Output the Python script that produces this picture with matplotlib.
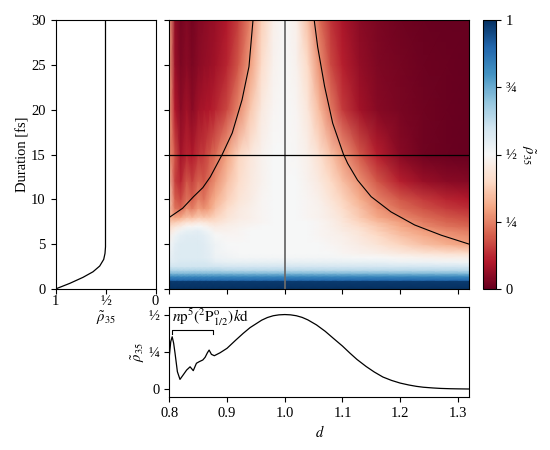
import matplotlib
matplotlib.use("Agg")
import matplotlib.pyplot as plt
import numpy as np

plt.rcParams.update({
    "font.family": "serif",
    "font.serif": ["Liberation Serif", "DejaVu Serif"],
    "mathtext.fontset": "stix",
    "font.size": 10.5,
})

# ---- data -----------------------------------------------------------------
# heat map grid: duration rows (fs) x photon-energy ratio columns
D_COLS = [0.80, 0.81, 0.82, 0.83, 0.84, 0.85, 0.86, 0.87, 0.88, 0.90, 0.92, 0.94, 0.96,
          0.98, 1.00, 1.02, 1.04, 1.06, 1.08, 1.10, 1.13, 1.16, 1.20, 1.24, 1.28, 1.32]
T_ROWS = [0.0, 0.9, 1.0, 1.4, 1.75, 2.1, 2.5, 3.0, 3.5, 4.0, 5.0, 6.0, 6.5, 7.0, 7.5,
          8.0, 9.0, 10.0, 12.0, 15.0, 20.0, 25.0, 30.0]
RHO_GRID = [
    [1.00] * 26,
    [0.98] * 26,
    [0.89] * 26,
    [0.82] * 26,
    [0.72] * 26,
    [0.65] * 9 + [0.64] * 17,
    [0.60] * 9 + [0.59] * 17,
    [0.56, 0.57, 0.58, 0.58, 0.58, 0.58, 0.58, 0.57, 0.55, 0.54, 0.54, 0.54, 0.54, 0.54,
     0.54, 0.54, 0.54, 0.54, 0.54, 0.54, 0.54, 0.54, 0.53, 0.53, 0.52, 0.52],
    [0.54, 0.56, 0.57, 0.57, 0.57, 0.57, 0.56, 0.55, 0.53, 0.52, 0.51, 0.51, 0.51, 0.51,
     0.51, 0.51, 0.51, 0.51, 0.51, 0.51, 0.50, 0.50, 0.49, 0.48, 0.47, 0.47],
    [0.53, 0.56, 0.57, 0.57, 0.57, 0.57, 0.56, 0.55, 0.52, 0.51, 0.50, 0.50, 0.50, 0.50,
     0.50, 0.50, 0.50, 0.50, 0.50, 0.49, 0.48, 0.47, 0.45, 0.43, 0.42, 0.41],
    [0.51, 0.55, 0.57, 0.57, 0.57, 0.57, 0.56, 0.54, 0.52, 0.50, 0.50, 0.50, 0.50, 0.50,
     0.50, 0.50, 0.50, 0.50, 0.49, 0.48, 0.46, 0.43, 0.39, 0.35, 0.32, 0.29],
    [0.47, 0.52, 0.55, 0.56, 0.56, 0.56, 0.55, 0.53, 0.50, 0.49, 0.49, 0.50, 0.50, 0.50,
     0.50, 0.50, 0.50, 0.49, 0.48, 0.47, 0.44, 0.40, 0.35, 0.31, 0.28, 0.26],
    [0.44, 0.48, 0.52, 0.54, 0.54, 0.55, 0.53, 0.51, 0.48, 0.48, 0.49, 0.50, 0.50, 0.50,
     0.50, 0.50, 0.50, 0.49, 0.48, 0.46, 0.43, 0.38, 0.33, 0.29, 0.26, 0.24],
    [0.40, 0.43, 0.46, 0.49, 0.49, 0.50, 0.49, 0.47, 0.46, 0.47, 0.48, 0.49, 0.50, 0.50,
     0.50, 0.50, 0.50, 0.49, 0.47, 0.45, 0.41, 0.37, 0.31, 0.26, 0.23, 0.21],
    [0.36, 0.37, 0.39, 0.42, 0.42, 0.44, 0.43, 0.42, 0.42, 0.45, 0.47, 0.48, 0.49, 0.50,
     0.50, 0.50, 0.50, 0.49, 0.47, 0.44, 0.39, 0.34, 0.29, 0.24, 0.21, 0.19],
    [0.33, 0.30, 0.31, 0.35, 0.34, 0.37, 0.36, 0.37, 0.39, 0.43, 0.46, 0.47, 0.49, 0.50,
     0.50, 0.50, 0.49, 0.48, 0.46, 0.43, 0.37, 0.31, 0.26, 0.22, 0.19, 0.17],
    [0.36, 0.23, 0.21, 0.27, 0.24, 0.29, 0.27, 0.30, 0.35, 0.41, 0.45, 0.47, 0.49, 0.50,
     0.50, 0.50, 0.49, 0.48, 0.45, 0.41, 0.35, 0.28, 0.22, 0.18, 0.15, 0.13],
    [0.38, 0.20, 0.17, 0.23, 0.20, 0.25, 0.23, 0.28, 0.32, 0.38, 0.43, 0.46, 0.49, 0.50,
     0.50, 0.50, 0.49, 0.47, 0.43, 0.39, 0.32, 0.25, 0.19, 0.15, 0.12, 0.10],
    [0.35, 0.16, 0.12, 0.19, 0.16, 0.21, 0.19, 0.23, 0.27, 0.35, 0.41, 0.45, 0.48, 0.50,
     0.50, 0.50, 0.48, 0.45, 0.40, 0.35, 0.27, 0.19, 0.11, 0.07, 0.05, 0.04],
    [0.28, 0.18, 0.08, 0.12, 0.10, 0.14, 0.15, 0.19, 0.22, 0.30, 0.39, 0.44, 0.48, 0.50,
     0.50, 0.495, 0.47, 0.42, 0.355, 0.285, 0.19, 0.11, 0.045, 0.015, 0.004, 0.0],
    [0.30, 0.10, 0.05, 0.08, 0.05, 0.08, 0.09, 0.10, 0.12, 0.17, 0.26, 0.36, 0.45, 0.49,
     0.50, 0.49, 0.44, 0.34, 0.24, 0.15, 0.08, 0.045, 0.025, 0.012, 0.005, 0.0],
    [0.30, 0.07, 0.03, 0.05, 0.03, 0.05, 0.06, 0.07, 0.08, 0.12, 0.19, 0.29, 0.41, 0.48,
     0.50, 0.48, 0.40, 0.27, 0.17, 0.11, 0.06, 0.035, 0.02, 0.01, 0.005, 0.0],
    [0.30, 0.06, 0.02, 0.04, 0.02, 0.04, 0.05, 0.06, 0.07, 0.10, 0.16, 0.25, 0.38, 0.47,
     0.50, 0.47, 0.35, 0.22, 0.14, 0.09, 0.05, 0.03, 0.015, 0.005, 0.0, 0.0],
]

# half-maximum guide curves drawn on the map
LEFT_CURVE_T = [8.06, 9.0, 10.3, 11.3, 12.5, 15.05, 17.4, 21.1, 24.8, 30.0]
LEFT_CURVE_D = [0.8017, 0.823, 0.842, 0.858, 0.871, 0.892, 0.909, 0.926, 0.938, 0.945]
RIGHT_CURVE_T = [4.98, 6.0, 7.14, 8.6, 10.3, 12.15, 14.0, 15.05, 18.5, 22.6, 27.0, 30.0]
RIGHT_CURVE_D = [1.3205, 1.271, 1.225, 1.184, 1.1496, 1.126, 1.109, 1.1015, 1.083,
                 1.069, 1.057, 1.051]

# left panel: rho vs duration at d = 1
SIDE_T = [0.0, 0.63, 1.3, 1.92, 2.56, 3.3, 3.97, 4.7, 30.0]
SIDE_RHO = [1.0, 0.857, 0.725, 0.625, 0.558, 0.518, 0.505, 0.5, 0.5]

# bottom panel: rho vs d at duration 15 fs
CUT_D = [0.800, 0.8025, 0.805, 0.8075, 0.810, 0.814, 0.8185, 0.824, 0.830, 0.836,
         0.8415, 0.847, 0.852, 0.858, 0.862, 0.866, 0.869, 0.873, 0.878, 0.888, 0.900,
         0.915, 0.928, 0.940, 0.950, 0.960, 0.970, 0.980, 0.990, 1.000, 1.010, 1.020,
         1.030, 1.040, 1.055, 1.070, 1.084, 1.100, 1.113, 1.125, 1.141, 1.155, 1.170,
         1.185, 1.200, 1.215, 1.228, 1.240, 1.257, 1.270, 1.286, 1.300, 1.320]
CUT_RHO = [0.22, 0.32, 0.353, 0.31, 0.24, 0.117, 0.065, 0.095, 0.128, 0.15, 0.124,
           0.174, 0.185, 0.196, 0.214, 0.245, 0.263, 0.234, 0.225, 0.245, 0.275,
           0.33, 0.376, 0.415, 0.44, 0.465, 0.483, 0.495, 0.501, 0.503, 0.501, 0.495,
           0.484, 0.467, 0.433, 0.39, 0.343, 0.29, 0.242, 0.20, 0.152, 0.115, 0.081,
           0.058, 0.04, 0.027, 0.018, 0.012, 0.007, 0.004, 0.002, 0.001, 0.0]

FRAC_TICKS = [0, 0.25, 0.5, 0.75, 1]
FRAC_LABELS = ["0", "\u00bc", "\u00bd", "\u00be", "1"]
RHO_LABEL = r"$\tilde{\rho}_{35}$"


def main():
    fig = plt.figure(figsize=(5.5, 4.5), dpi=100)
    W, H = 550.0, 450.0

    def box(x0, y0, x1, y1):
        return [x0 / W, 1 - y1 / H, (x1 - x0) / W, (y1 - y0) / H]

    ax_side = fig.add_axes(box(55.5, 20, 155.5, 289))
    ax_map = fig.add_axes(box(169.3, 20, 469.5, 289))
    ax_cb = fig.add_axes(box(483, 20, 496, 289))
    ax_cut = fig.add_axes(box(169.3, 307.3, 469.5, 397.3))

    # main map
    D, T = np.meshgrid(D_COLS, T_ROWS)
    mesh = ax_map.pcolormesh(D, T, np.array(RHO_GRID), shading="gouraud",
                             cmap="RdBu", vmin=0, vmax=1, rasterized=True)
    ax_map.plot(LEFT_CURVE_D, LEFT_CURVE_T, color="k", lw=0.8)
    ax_map.plot(RIGHT_CURVE_D, RIGHT_CURVE_T, color="k", lw=0.8)
    ax_map.axvline(1.0, color="0.42", lw=1.3)
    ax_map.axhline(15.0, color="k", lw=0.9)
    ax_map.set_xlim(0.8, 1.32)
    ax_map.set_ylim(0, 30)
    ax_map.set_xticks([0.8, 0.9, 1.0, 1.1, 1.2, 1.3])
    ax_map.set_yticks(range(0, 31, 5))
    ax_map.tick_params(labelleft=False, labelbottom=False)

    # colorbar
    cb = fig.colorbar(mesh, cax=ax_cb, ticks=FRAC_TICKS)
    cb.ax.set_yticklabels(FRAC_LABELS)
    cb.set_label(RHO_LABEL, rotation=270, labelpad=14)

    # side panel
    ax_side.plot(SIDE_RHO, SIDE_T, color="k", lw=0.9)
    ax_side.set_xlim(1, 0)
    ax_side.set_ylim(0, 30)
    ax_side.set_xticks([1, 0.5, 0])
    ax_side.set_xticklabels(["1", "\u00bd", "0"])
    ax_side.tick_params(axis="x", pad=1.0)
    ax_side.set_yticks(range(0, 31, 5))
    ax_side.set_ylabel("Duration [fs]", labelpad=1)
    ax_side.set_xlabel(RHO_LABEL, labelpad=1)

    # bottom cut
    ax_cut.plot(CUT_D, CUT_RHO, color="k", lw=0.9)
    ax_cut.set_xlim(0.8, 1.32)
    ax_cut.set_ylim(-0.056, 0.552)
    ax_cut.set_xticks([0.8, 0.9, 1.0, 1.1, 1.2, 1.3])
    ax_cut.set_xticklabels(["0.8", "0.9", "1.0", "1.1", "1.2", "1.3"])
    ax_cut.set_yticks([0, 0.25, 0.5])
    ax_cut.set_yticklabels(["0", "\u00bc", "\u00bd"])
    ax_cut.set_xlabel(r"$d$", labelpad=3)
    ax_cut.set_ylabel(RHO_LABEL, labelpad=1)

    # channel bracket
    bx0, bx1, by, bdrop = 0.805, 0.875, 0.40, 0.025
    ax_cut.plot([bx0, bx0, bx1, bx1], [by - bdrop, by, by, by - bdrop],
                color="k", lw=0.8)
    ax_cut.text(bx0 - 0.001, by + 0.012,
                r"$n\mathrm{p}^5(^2\mathrm{P}^\mathrm{o}_{1/2})k\mathrm{d}$",
                ha="left", va="bottom", fontsize=11)

    fig.savefig("out.png", dpi=100)
    plt.close(fig)


if __name__ == "__main__":
    main()
